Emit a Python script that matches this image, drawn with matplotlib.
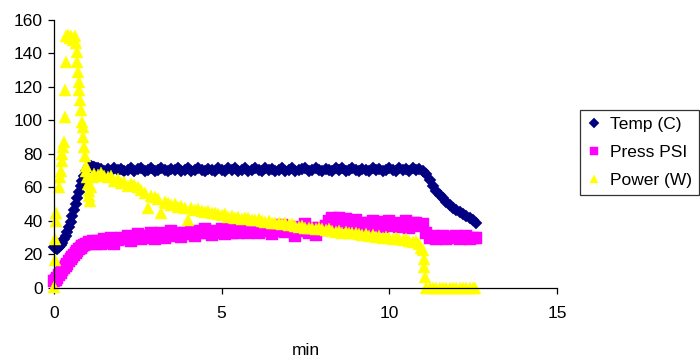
import matplotlib
matplotlib.use("Agg")
import matplotlib.pyplot as plt

# time axis (min) shared by temperature and pressure readings
t_main = [0.0, 0.05, 0.1, 0.15, 0.2, 0.25, 0.3, 0.35, 0.4, 0.45,
          0.5, 0.55, 0.6, 0.65, 0.7, 0.75, 0.8, 0.85, 0.9, 0.95,
          1.0, 1.05, 1.1, 1.15, 1.2, 1.25, 1.3,
          1.4, 1.5, 1.6, 1.7, 1.8, 1.9,
          2.0, 2.1, 2.2, 2.3, 2.4, 2.5, 2.6, 2.7, 2.8, 2.9,
          3.0, 3.1, 3.2, 3.3, 3.4, 3.5, 3.6, 3.7, 3.8, 3.9,
          4.0, 4.1, 4.2, 4.3, 4.4, 4.5, 4.6, 4.7, 4.8, 4.9,
          5.0, 5.1, 5.2, 5.3, 5.4, 5.5, 5.6, 5.7, 5.8, 5.9,
          6.0, 6.1, 6.2, 6.3, 6.4, 6.5, 6.6, 6.7, 6.8, 6.9,
          7.0, 7.1, 7.2, 7.3, 7.4, 7.5, 7.6, 7.7, 7.8, 7.9,
          8.0, 8.1, 8.2, 8.3, 8.4, 8.5, 8.6, 8.7, 8.8, 8.9,
          9.0, 9.1, 9.2, 9.3, 9.4, 9.5, 9.6, 9.7, 9.8, 9.9,
          10.0, 10.1, 10.2, 10.3, 10.4, 10.5, 10.6, 10.7, 10.8, 10.9,
          11.0, 11.1, 11.2, 11.3, 11.4, 11.5, 11.6, 11.7, 11.8, 11.9,
          12.0, 12.1, 12.2, 12.3, 12.4, 12.5, 12.57]

temp = [24.5, 24, 23.5, 24.5, 25.5, 27, 29, 31, 33.5, 36.5,
        39.5, 43, 46.5, 50, 53.5, 57, 61, 64, 67, 69.5,
        71.5, 72.5, 72.5, 72, 72, 71.5, 71.5,
        71, 69.8, 71.2, 70, 71.5, 70.3,
        71, 69.7, 70.5, 71.6, 70, 70.8, 71.8, 69.8, 70.5, 71.3,
        70, 70.6, 71.5, 70.2, 69.7, 71.2, 70.5, 71.8, 70, 70.6,
        71.3, 69.8, 70.5, 71.5, 70.4, 69.8, 71.2, 70.6, 70, 71.8,
        70.5, 69.8, 71.3, 70.5, 71.5, 70, 70.6, 71.4, 69.8, 70.5,
        71.3, 70.5, 69.8, 71.8, 70.4, 71.2, 69.9, 70.5, 71.4, 70,
        70.6, 71.3, 69.8, 70.5, 71.2, 71.8, 70, 70.5, 71.3, 70.4,
        69.9, 71.2, 70.5, 69.8, 71.3, 70.5, 71.8, 70, 70.6, 71.3,
        70.5, 69.8, 71.2, 70.6, 70, 71.4, 70.5, 71.2, 69.8, 70.5,
        71.3, 70.5, 69.9, 71.7, 70.5, 71.2, 70, 71.3, 70.5, 70.8,
        70, 68, 64.5, 61, 58, 55.5, 53.5, 51.5, 49.5, 48,
        46.5, 45.5, 44, 43, 41.5, 40.5, 39]

press = [4, 5, 6, 7.5, 9, 10.5, 12, 13, 14.5, 16,
         17, 18.5, 19.5, 21, 22, 23, 24, 25, 25.5, 26,
         26.5, 27.5, 27, 28, 27.5, 26.5, 28,
         26, 29, 27, 30, 26.5, 28.5,
         30, 29, 31, 28, 30.5, 32, 29, 31, 30, 32.5,
         29.5, 31, 33, 30, 32, 34, 31, 32.5, 30.5, 33,
         32, 33.5, 31, 34, 32.5, 35, 33, 31.5, 34, 33,
         35, 32, 34.5, 33, 35.5, 32.5, 34, 36, 33, 34.5,
         35, 33, 36, 34, 37, 32, 35.5, 34, 37.5, 33.5,
         36, 34, 31, 36.5, 34, 38, 33, 35.5, 31.5, 36,
         34.5, 37, 40, 41.5, 39, 42, 38.5, 41, 39.5, 38,
         40.5, 37.5, 39, 36, 38.5, 40, 37, 39.5, 36.5, 38,
         40, 37, 39, 36.5, 38, 40, 36, 38.5, 39, 37,
         38, 33, 30, 31, 29.5, 30.5, 31, 29, 30.5, 30,
         31, 29.5, 30, 31, 29.5, 30, 30]

# power was logged with its own timestamps (denser around the start-up spike)
t_power = [0.0, 0.02, 0.04, 0.05, 0.06, 0.15, 0.17, 0.20, 0.23, 0.25,
           0.27, 0.30, 0.33, 0.34, 0.35, 0.37, 0.42, 0.47, 0.52, 0.57,
           0.62, 0.66, 0.68, 0.70, 0.72, 0.74, 0.76, 0.78, 0.80, 0.83,
           0.86, 0.88, 0.90, 0.92, 0.95, 0.97, 0.99, 1.01, 1.03, 1.05,
           1.07, 1.10, 1.15,
           1.2, 1.3, 1.4, 1.5, 1.6, 1.7, 1.8, 1.9,
           2.0, 2.1, 2.2, 2.3, 2.4, 2.5, 2.6, 2.7, 2.8, 2.9,
           3.0, 3.1, 3.2, 3.3, 3.4, 3.5, 3.6, 3.7, 3.8, 3.9,
           4.0, 4.1, 4.2, 4.3, 4.4, 4.5, 4.6, 4.7, 4.8, 4.9,
           5.0, 5.1, 5.2, 5.3, 5.4, 5.5, 5.6, 5.7, 5.8, 5.9,
           6.0, 6.1, 6.2, 6.3, 6.4, 6.5, 6.6, 6.7, 6.8, 6.9,
           7.0, 7.1, 7.2, 7.3, 7.4, 7.5, 7.6, 7.7, 7.8, 7.9,
           8.0, 8.1, 8.2, 8.3, 8.4, 8.5, 8.6, 8.7, 8.8, 8.9,
           9.0, 9.1, 9.2, 9.3, 9.4, 9.5, 9.6, 9.7, 9.8, 9.9,
           10.0, 10.1, 10.2, 10.3, 10.4, 10.5, 10.6, 10.7, 10.8, 10.9,
           10.95, 11.0, 11.02, 11.04, 11.06, 11.1,
           11.2, 11.3, 11.4, 11.5, 11.6, 11.7, 11.8, 11.9,
           12.0, 12.1, 12.2, 12.3, 12.4, 12.5, 12.55]

power = [0.5, 16.5, 29.5, 40, 45, 60, 66, 70, 76, 80,
         84, 87, 102, 118, 135, 150, 151, 149, 150, 148,
         150, 146, 141, 135, 129, 123, 118, 112, 106, 99,
         96, 90, 84, 79, 73, 70, 66, 62, 58, 55,
         52, 60, 66,
         68, 67.5, 68.5, 67, 66, 66.5, 64, 65,
         62.5, 63.5, 61, 62, 61.5, 60, 58.5, 56.5, 47.5, 55,
         54, 53, 44.5, 51, 50.5, 49.5, 50, 48.5, 49, 48,
         40.5, 47.5, 46.5, 47, 46, 45.5, 46, 44.5, 45, 44,
         43.5, 44, 42.5, 43, 42, 42.5, 41, 42, 41.5, 40.5,
         40.5, 41, 40, 39.5, 40, 39, 38.5, 39, 38, 38.5,
         37.5, 38, 37, 36.5, 37, 36, 35.5, 36, 35, 35.5,
         35, 34.5, 35, 34, 33.5, 34, 33, 33.5, 32.5, 33,
         32.5, 32, 31.5, 32, 31, 31.5, 30.5, 31, 30, 30.5,
         30, 29.5, 30, 29, 28.5, 29, 28, 27.5, 28, 26.5,
         24, 22.5, 17.5, 12.5, 6.5, 0,
         0, 0, 0, 0, 0, 0, 0, 0,
         0, 0, 0, 0, 0, 0, 0]

x_ticks = [0, 5, 10, 15]
y_ticks = [0, 20, 40, 60, 80, 100, 120, 140, 160]

plt.rcParams['font.family'] = ['Liberation Sans', 'DejaVu Sans']
fs = 12.5

fig = plt.figure(figsize=(7, 3.57), dpi=100)
ax = fig.add_axes([0.0771, 0.1933, 0.7186, 0.7515])

ax.plot(t_main, temp, ls='none', marker='D', ms=6.6, color='#000080',
        mec='#000080', mew=0.3, label='Temp (C)', clip_on=False)
ax.plot(t_main, press, ls='none', marker='s', ms=8, color='#FF00FF',
        mec='#FF00FF', mew=0.3, label='Press PSI', clip_on=False)
ax.plot(t_power, power, ls='none', marker='^', ms=8, color='#FFFF00',
        mec='#FFFF00', mew=0.3, label='Power (W)', clip_on=False)

ax.set_xlim(0, 15)
ax.set_ylim(0, 160)
ax.set_xticks(x_ticks)
ax.set_yticks(y_ticks)
ax.spines['top'].set_visible(False)
ax.spines['right'].set_visible(False)
for s in ['left', 'bottom']:
    ax.spines[s].set_linewidth(0.9)
ax.tick_params(direction='out', length=4, width=0.9, labelsize=fs)
ax.tick_params(axis='x', pad=9)
ax.tick_params(axis='y', pad=4)
ax.set_xlabel('min', fontsize=fs, labelpad=16)

leg = fig.legend(loc='upper left', bbox_to_anchor=(0.8286, 0.692),
                 borderaxespad=0, fontsize=fs, frameon=True, fancybox=False,
                 edgecolor='black', handlelength=0.8, handletextpad=0.55,
                 borderpad=0.4, labelspacing=0.75, markerscale=0.72)
leg.get_frame().set_linewidth(0.9)

fig.savefig('out.png', dpi=100)
